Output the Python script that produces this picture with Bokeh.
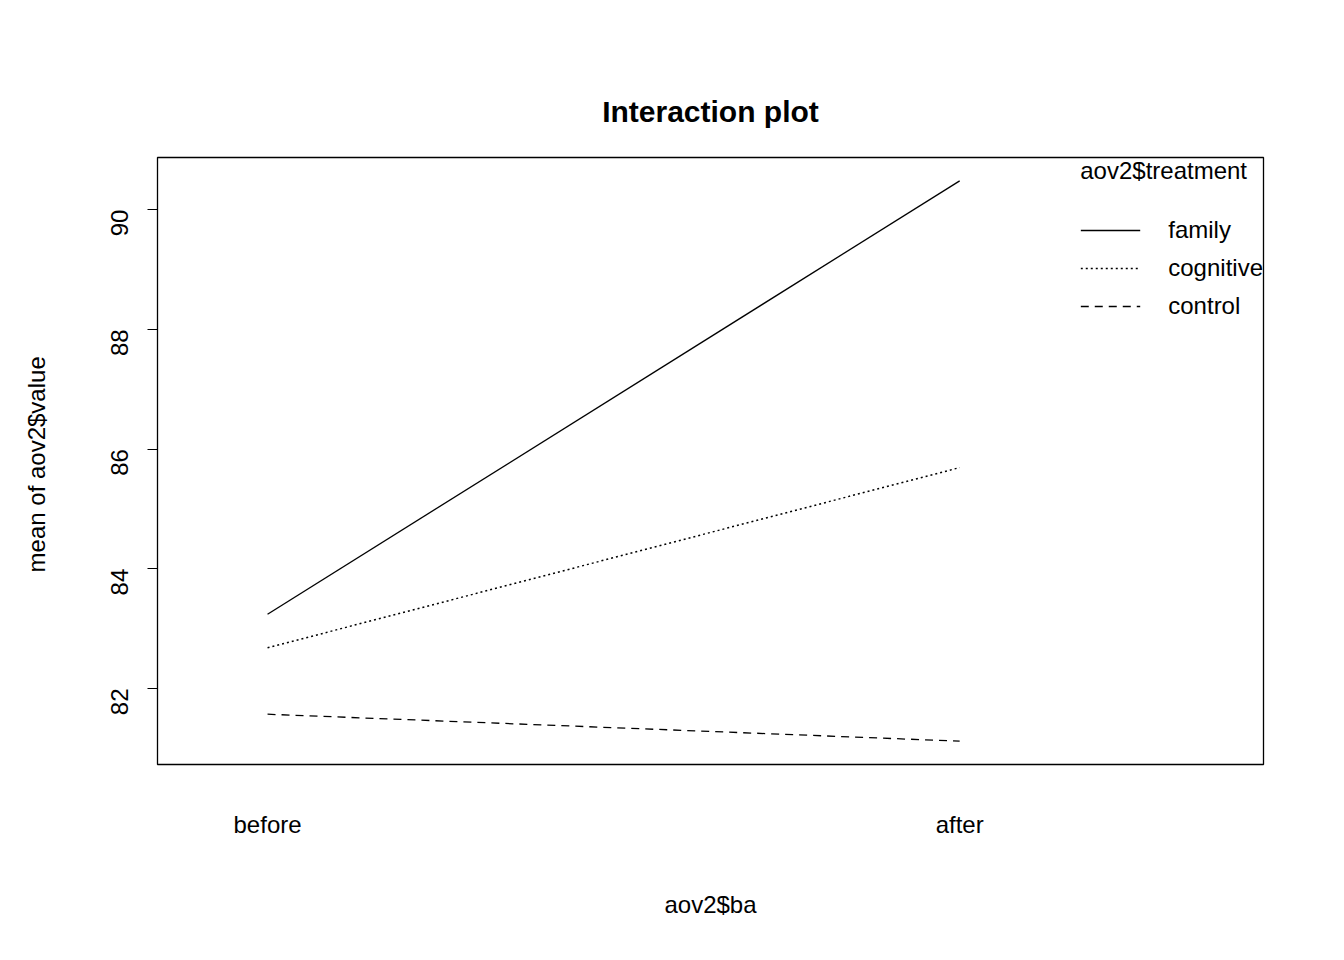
from bokeh.plotting import figure
from bokeh.models import FixedTicker, Range1d, Legend, LegendItem
from bokeh.embed import file_html
from bokeh.resources import INLINE
import math

levels = ["before", "after"]
xpos = [1, 2]
family = [83.24, 90.48]
cognitive = [82.68, 85.69]
control = [81.57, 81.12]
yticks = [82, 84, 86, 88, 90]

F = "Liberation Sans"
p = figure(width=1328, height=944, output_backend="svg", toolbar_location=None,
           x_range=Range1d(0.841, 2.439), y_range=Range1d(80.73, 90.87),
           title="Interaction plot", min_border_left=157, min_border_right=65,
           min_border_top=157, min_border_bottom=180)
p.title.align = "center"
p.title.text_font = F
p.title.text_font_size = "30px"
p.title.text_font_style = "bold"
p.title.text_color = "black"
p.title.offset = 0
p.title.standoff = 60
p.grid.visible = False
p.outline_line_color = "black"
p.outline_line_width = 1.3
p.background_fill_color = "white"

r1 = p.line(xpos, family, line_color="black", line_width=1.3)
r2 = p.line(xpos, cognitive, line_color="black", line_width=1.5, line_dash="2 3")
r3 = p.line(xpos, control, line_color="black", line_width=1.3, line_dash="8 6")

xa = p.xaxis[0]
xa.ticker = FixedTicker(ticks=xpos)
xa.major_label_overrides = {1: levels[0], 2: levels[1]}
xa.major_tick_out = 0
xa.major_tick_in = 0
xa.minor_tick_out = 0
xa.axis_line_color = None
xa.major_label_standoff = 46
xa.major_label_text_font = F
xa.major_label_text_font_size = "24px"
xa.major_label_text_color = "black"
xa.axis_label = "aov2$ba"
xa.axis_label_standoff = 50
xa.axis_label_text_font = F
xa.axis_label_text_font_size = "24px"
xa.axis_label_text_font_style = "normal"
xa.axis_label_text_color = "black"

ya = p.yaxis[0]
ya.ticker = FixedTicker(ticks=yticks)
ya.major_label_orientation = math.pi / 2
ya.major_tick_out = 10
ya.major_tick_in = 0
ya.minor_tick_out = 0
ya.axis_line_color = None
ya.major_tick_line_color = "black"
ya.major_label_standoff = 28
ya.major_label_text_font = F
ya.major_label_text_font_size = "24px"
ya.major_label_text_color = "black"
ya.axis_label = "mean of  aov2$value"
ya.axis_label_standoff = 50
ya.axis_label_text_font = F
ya.axis_label_text_font_size = "24px"
ya.axis_label_text_font_style = "normal"
ya.axis_label_text_color = "black"

legend = Legend(items=[LegendItem(label="family", renderers=[r1]),
                       LegendItem(label="cognitive", renderers=[r2]),
                       LegendItem(label="control", renderers=[r3])],
                location="top_right", title="aov2$treatment",
                title_text_font=F, title_text_font_size="24px", title_text_font_style="normal",
                title_text_color="black",
                label_text_font=F, label_text_font_size="24px", label_text_color="black",
                border_line_color=None, background_fill_alpha=0,
                glyph_width=60, glyph_height=30, label_standoff=28, spacing=8,
                title_standoff=30, margin=0, padding=20)
p.add_layout(legend)

open("out.html", "w").write(file_html(p, INLINE))
